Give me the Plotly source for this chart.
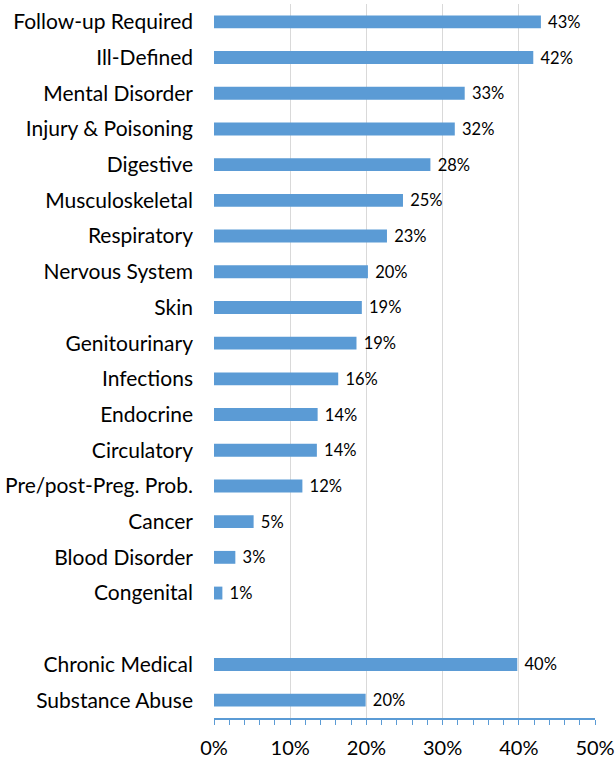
import plotly.graph_objects as go

categories = [
    "Follow-up Required", "Ill-Defined", "Mental Disorder", "Injury & Poisoning",
    "Digestive", "Musculoskeletal", "Respiratory", "Nervous System", "Skin",
    "Genitourinary", "Infections", "Endocrine", "Circulatory",
    "Pre/post-Preg. Prob.", "Cancer", "Blood Disorder", "Congenital",
    " ",
    "Chronic Medical", "Substance Abuse",
]
values = [
    0.429, 0.419, 0.329, 0.316, 0.284, 0.248, 0.227, 0.202, 0.194,
    0.187, 0.163, 0.136, 0.135, 0.116, 0.052, 0.028, 0.011,
    None,
    0.398, 0.199,
]
labels = [
    "43%", "42%", "33%", "32%", "28%", "25%", "23%", "20%", "19%",
    "19%", "16%", "14%", "14%", "12%", "5%", "3%", "1%",
    "",
    "40%", "20%",
]
x_ticks = [0, 0.1, 0.2, 0.3, 0.4, 0.5]
x_tick_text = ["0%", "10%", "20%", "30%", "40%", "50%"]

FONT = "Lato, Carlito, Calibri, sans-serif"
BAR = "#5b9bd5"
PAD = "\u00a0"

fig = go.Figure()
fig.add_trace(go.Bar(
    x=values, y=categories, orientation="h",
    marker=dict(color=BAR, line=dict(width=0)),
    width=0.36,
    text=[PAD + s if s else s for s in labels],
    textposition="outside", constraintext="none",
    textfont=dict(family=FONT, size=16.5, color="#000000"),
    cliponaxis=False,
    showlegend=False,
    hoverinfo="skip",
))

fig.update_layout(
    width=615, height=759,
    margin=dict(l=214, r=20, t=4, b=41, autoexpand=False),
    paper_bgcolor="white", plot_bgcolor="white",
    font=dict(family=FONT, color="#000000"),
    xaxis=dict(
        range=[0, 0.5],
        tickvals=x_ticks, ticktext=x_tick_text,
        tickfont=dict(size=20, color="#000000"),
        showgrid=True, gridcolor="#d9d9d9", gridwidth=1,
        showline=True, linecolor=BAR, linewidth=1.5,
        ticks="outside", ticklen=5, tickcolor=BAR, tickwidth=1,
        minor=dict(dtick=0.02, ticks="outside", ticklen=5, tickcolor=BAR, tickwidth=1, showgrid=False),
        ticklabelstandoff=6,
        zeroline=False, automargin=False,
        fixedrange=True,
    ),
    xaxis2=dict(
        overlaying="x", matches="x", side="bottom",
        range=[0, 0.5],
        dtick=0.02, ticks="inside", ticklen=5, tickcolor=BAR, tickwidth=1,
        showticklabels=False, showgrid=False, showline=False, zeroline=False,
        automargin=False,
    ),
    yaxis=dict(
        type="category",
        categoryorder="array", categoryarray=categories,
        autorange="reversed",
        tickfont=dict(size=21, color="#000000"),
        showgrid=False, showline=False, zeroline=False,
        ticks="", ticklabelstandoff=20, automargin=False,
        fixedrange=True,
    ),
)

fig.write_html(
    "out.html",
    config={"displayModeBar": False, "staticPlot": True},
    post_script="document.body.style.margin='0';document.body.style.overflow='hidden';",
)
